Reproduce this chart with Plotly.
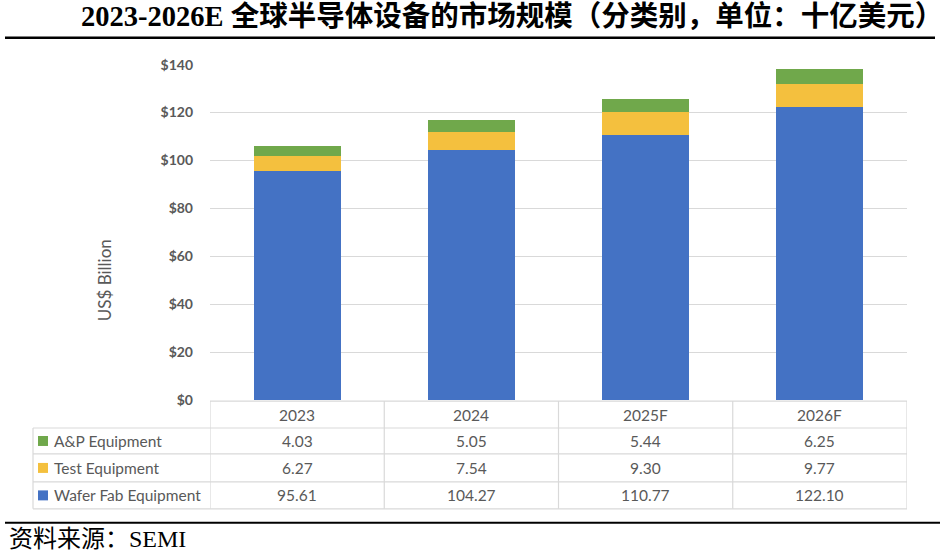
import plotly.graph_objects as go

# ---- data ----
years = ["2023", "2024", "2025F", "2026F"]
series_names = ["A&P Equipment", "Test Equipment", "Wafer Fab Equipment"]
wafer_fab = [95.61, 104.27, 110.77, 122.10]
test_eq = [6.27, 7.54, 9.30, 9.77]
ap_eq = [4.03, 5.05, 5.44, 6.25]
y_ticks = [0, 20, 40, 60, 80, 100, 120, 140]
y_tick_labels = ["$0", "$20", "$40", "$60", "$80", "$100", "$120", "$140"]

title_text = "2023-2026E 全球半导体设备的市场规模（分类别，单位：十亿美元）"
source_text = "资料来源：SEMI"
y_title = "US$ Billion"

# ---- styling ----
W, H = 945, 555
C_BLUE, C_YEL, C_GRN = "#4472C4", "#F4C03E", "#70A84B"
GRID = "#D9D9D9"
TXT = "#595959"
FONT = "Lato, Liberation Sans, sans-serif"
SERIF = "Liberation Serif, Noto Sans CJK SC, serif"
VS, VO = 0.971, 8.3  # vertical calibration of the rendered page


def xp(px):
    return px / W


def yp(py):
    return 1 - ((py - VO) / VS) / H


fig = go.Figure()
for name, vals, col in [("Wafer Fab Equipment", wafer_fab, C_BLUE),
                        ("Test Equipment", test_eq, C_YEL),
                        ("A&P Equipment", ap_eq, C_GRN)]:
    fig.add_trace(go.Bar(x=years, y=vals, name=name, marker=dict(color=col, line=dict(width=0)),
                         hoverinfo="skip"))

fig.update_layout(
    width=W, height=H, autosize=False,
    margin=dict(l=0, r=0, t=0, b=0),
    paper_bgcolor="white", plot_bgcolor="white",
    barmode="stack", bargap=0.5, showlegend=False,
    xaxis=dict(domain=[xp(210), xp(907)], type="category", range=[-0.5, 3.5],
               showticklabels=False, showgrid=False, zeroline=False, showline=False, ticks=""),
    yaxis=dict(domain=[yp(400), yp(64)], range=[0, 140], tickvals=y_ticks, ticktext=y_tick_labels,
               showgrid=True, gridcolor=GRID, gridwidth=1, zeroline=False, showline=False,
               ticks="", ticklabelstandoff=16,
               tickfont=dict(family=FONT, size=14, color=TXT, weight="bold")),
)

shapes = []
annotations = []

# title & lines
annotations.append(dict(x=xp(512), y=yp(15), xref="paper", yref="paper", text="<b>" + title_text + "</b>",
                        showarrow=False, xanchor="center", yanchor="middle",
                        font=dict(family=SERIF, size=28.5, color="black")))
shapes.append(dict(type="line", xref="paper", yref="paper", x0=xp(5), x1=xp(935), y0=yp(37), y1=yp(37),
                   line=dict(color="black", width=2.5)))
shapes.append(dict(type="line", xref="paper", yref="paper", x0=xp(5), x1=xp(940), y0=yp(523), y1=yp(523),
                   line=dict(color="black", width=2)))
annotations.append(dict(x=xp(7), y=yp(539), xref="paper", yref="paper", text=source_text,
                        showarrow=False, xanchor="left", yanchor="middle",
                        font=dict(family=SERIF, size=24, color="black")))

# y title
annotations.append(dict(x=xp(104), y=yp(280), xref="paper", yref="paper", text=y_title, textangle=-90,
                        showarrow=False, xanchor="center", yanchor="middle",
                        font=dict(family=FONT, size=17, color=TXT)))

# table
row_y = [401, 428, 454, 482, 509]
shapes.append(dict(type="line", xref="x", yref="paper", x0=-0.5, x1=3.5, y0=yp(row_y[0]), y1=yp(row_y[0]),
                   line=dict(color=GRID, width=1.2)))
for ry in row_y[1:]:
    shapes.append(dict(type="line", xref="paper", yref="paper", x0=xp(33), x1=xp(907), y0=yp(ry), y1=yp(ry),
                       line=dict(color=GRID, width=1.2)))
for i in range(len(years) + 1):
    shapes.append(dict(type="line", xref="x", yref="paper", x0=i - 0.5, x1=i - 0.5,
                       y0=yp(row_y[0]), y1=yp(row_y[-1]), line=dict(color=GRID, width=1.2)))
shapes.append(dict(type="line", xref="paper", yref="paper", x0=xp(33), x1=xp(33),
                   y0=yp(row_y[1]), y1=yp(row_y[-1]), line=dict(color=GRID, width=1.2)))

# header text
hy = (row_y[0] + row_y[1]) / 2
for i, yr in enumerate(years):
    annotations.append(dict(x=i, y=yp(hy), xref="x", yref="paper", text=yr, showarrow=False,
                            xanchor="center", yanchor="middle", font=dict(family=FONT, size=15.5, color=TXT)))

rows = [("A&P Equipment", ap_eq, C_GRN), ("Test Equipment", test_eq, C_YEL),
        ("Wafer Fab Equipment", wafer_fab, C_BLUE)]
for r, (name, vals, col) in enumerate(rows):
    cy = (row_y[r + 1] + row_y[r + 2]) / 2
    shapes.append(dict(type="rect", xref="paper", yref="paper", x0=xp(38), x1=xp(48),
                       y0=yp(cy + 5), y1=yp(cy - 5), fillcolor=col, line=dict(width=0)))
    annotations.append(dict(x=xp(52), y=yp(cy), xref="paper", yref="paper", text=name, showarrow=False,
                            xanchor="left", yanchor="middle", font=dict(family=FONT, size=15.5, color=TXT)))
    for i, v in enumerate(vals):
        annotations.append(dict(x=i, y=yp(cy), xref="x", yref="paper", text=f"{v:.2f}",
                                showarrow=False, xanchor="center", yanchor="middle",
                                font=dict(family=FONT, size=15.5, color=TXT)))

fig.update_layout(shapes=shapes, annotations=annotations)
fig.write_html(
    "out.html",
    config={"displayModeBar": False},
    post_script="document.body.style.margin='0';document.documentElement.style.overflow='hidden';",
)
